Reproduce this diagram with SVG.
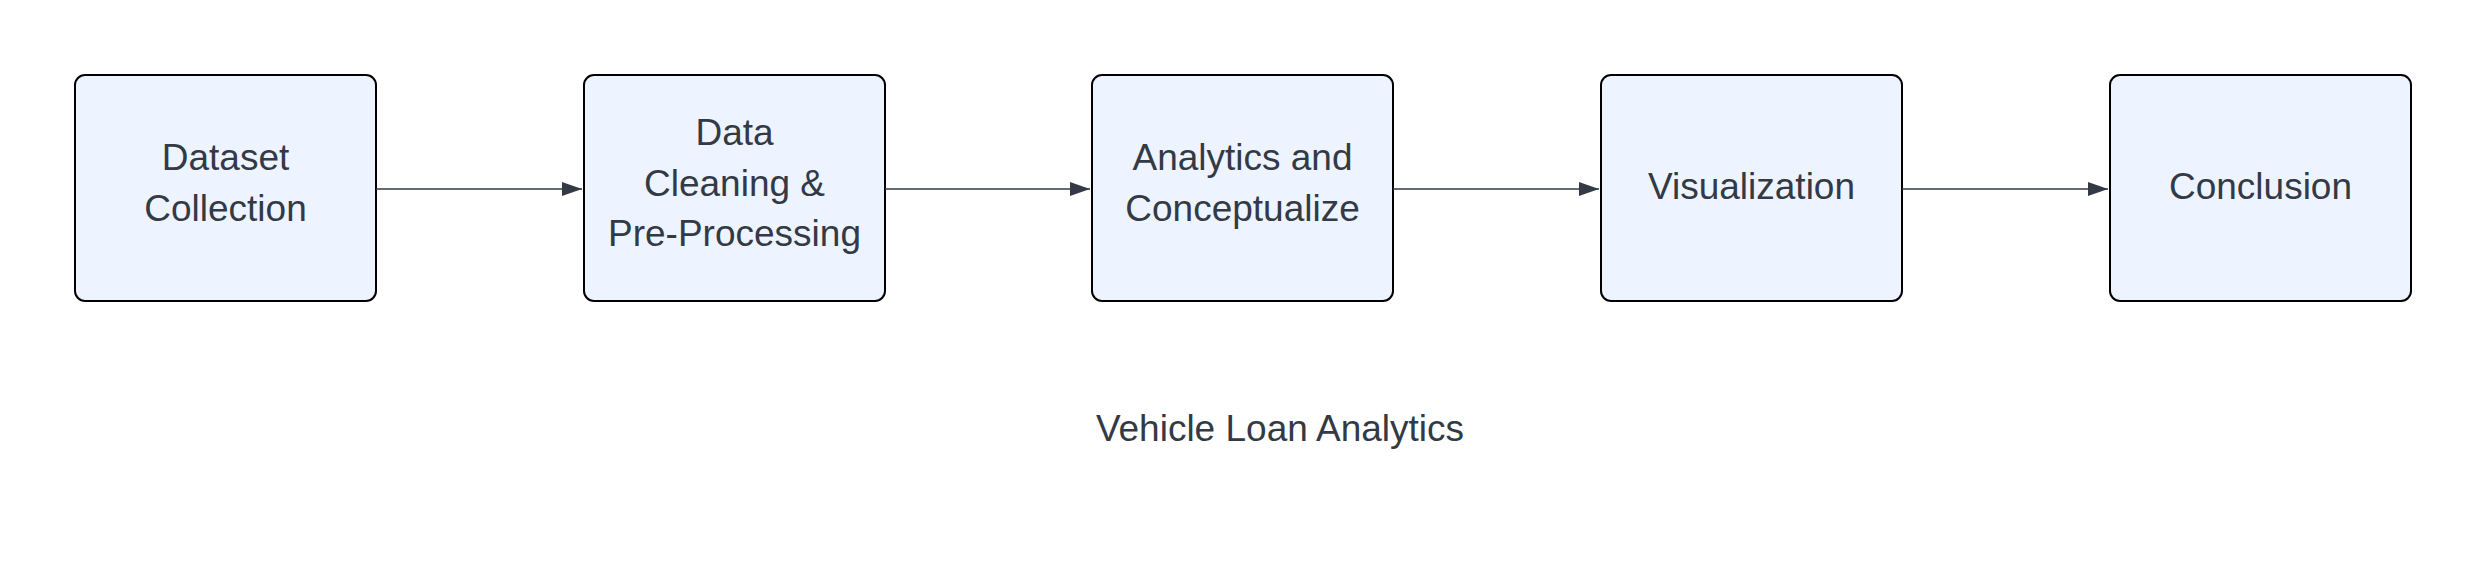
<svg xmlns="http://www.w3.org/2000/svg" width="2475" height="563" viewBox="0 0 2475 563">
<style>
.box{fill:#edf4ff;stroke:#000;stroke-width:2}
.t{font-family:"Liberation Sans",Arial,sans-serif;font-size:37px;fill:#333a45;text-anchor:middle}
.c{stroke:#333a45;stroke-width:1.5;fill:none}
</style>
<defs><marker id="a" viewBox="0 0 20 14" refX="20" refY="7" markerWidth="20" markerHeight="14" markerUnits="userSpaceOnUse" orient="auto"><path d="M0,0L20,7L0,14Z" fill="#333a45"/></marker></defs>
<rect width="2475" height="563" fill="#fff"/>
<g id="n1"><rect class="box" x="75" y="75" width="301" height="226" rx="10"/><text class="t" x="225.5" y="170">Dataset</text><text class="t" x="225.5" y="221">Collection</text></g>
<g id="n2"><rect class="box" x="584" y="75" width="301" height="226" rx="10"/><text class="t" x="734.5" y="145">Data</text><text class="t" x="734.5" y="196">Cleaning &amp;</text><text class="t" x="734.5" y="246">Pre-Processing</text></g>
<g id="n3"><rect class="box" x="1092" y="75" width="301" height="226" rx="10"/><text class="t" x="1242.5" y="170">Analytics and</text><text class="t" x="1242.5" y="221">Conceptualize</text></g>
<g id="n4"><rect class="box" x="1601" y="75" width="301" height="226" rx="10"/><text class="t" x="1751.5" y="199">Visualization</text></g>
<g id="n5"><rect class="box" x="2110" y="75" width="301" height="226" rx="10"/><text class="t" x="2260.5" y="199">Conclusion</text></g>
<g id="connectors">
<line class="c" x1="376" y1="189" x2="582" y2="189" marker-end="url(#a)"/>
<line class="c" x1="885" y1="189" x2="1090" y2="189" marker-end="url(#a)"/>
<line class="c" x1="1393" y1="189" x2="1599" y2="189" marker-end="url(#a)"/>
<line class="c" x1="1902" y1="189" x2="2108" y2="189" marker-end="url(#a)"/>
</g>
<text class="t" x="1280" y="441">Vehicle Loan Analytics</text>
</svg>
